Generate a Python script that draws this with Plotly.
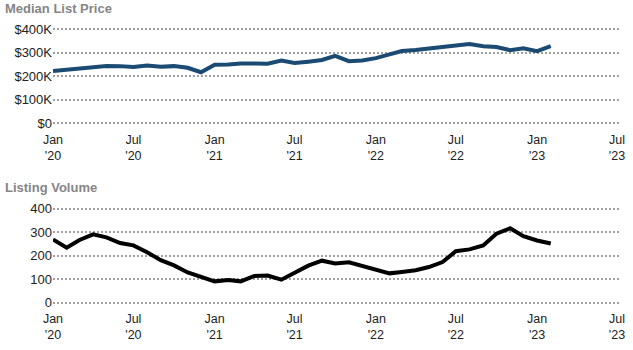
import plotly.graph_objects as go
import pandas as pd

months = pd.date_range("2020-01-01", "2023-02-01", freq="MS").strftime("%Y-%m-%d").tolist()

median_list_price = [221, 226, 230, 237, 243, 242, 238, 245, 239, 242, 235, 216,
                     248, 249, 253, 253, 252, 266, 255, 261, 268, 286, 263, 266,
                     276, 292, 306, 311, 318, 327, 330, 336, 327, 323, 310, 318,
                     306, 327]
median_list_price = [v * 1000 for v in median_list_price]

listing_volume = [268, 233, 266, 290, 277, 253, 243, 214, 180, 158, 128, 111,
                  90, 96, 90, 113, 115, 97, 126, 157, 178, 166, 171, 157,
                  141, 124, 130, 137, 151, 172, 218, 226, 243, 293, 316, 282,
                  264, 251]

x_tickvals = ["2020-01-01", "2020-07-01", "2021-01-01", "2021-07-01",
              "2022-01-01", "2022-07-01", "2023-01-01", "2023-07-01"]
x_ticktext = ["Jan<br>'20", "Jul<br>'20", "Jan<br>'21", "Jul<br>'21",
              "Jan<br>'22", "Jul<br>'22", "Jan<br>'23", "Jul<br>'23"]
price_ticks = [0, 100000, 200000, 300000, 400000]
price_ticktext = ["$0", "$100K", "$200K", "$300K", "$400K"]
volume_ticks = [0, 100, 200, 300, 400]

W, H = 633, 350
font = "Arial, Liberation Sans, sans-serif"

fig = go.Figure()
fig.add_trace(go.Scatter(x=months, y=median_list_price, mode="lines",
                         line=dict(color="#1b4a72", width=4), xaxis="x", yaxis="y",
                         hoverinfo="skip"))
fig.add_trace(go.Scatter(x=months, y=listing_volume, mode="lines",
                         line=dict(color="#000000", width=4), xaxis="x2", yaxis="y2",
                         hoverinfo="skip"))

# x: Jan 2020 at px 53, Jul 2023 at px 617, plot ends at px 620
days = (pd.Timestamp("2023-07-01") - pd.Timestamp("2020-01-01")).days
px_per_day = (617 - 53) / days
end_date = (pd.Timestamp("2023-07-01") + pd.Timedelta(days=3 / px_per_day)).strftime("%Y-%m-%d %H:%M")
xdom = [53 / W, 620 / W]
common_x = dict(domain=xdom, range=["2020-01-01", end_date], tickvals=x_tickvals,
                ticktext=x_ticktext, showgrid=False, zeroline=False, showline=False,
                ticks="", automargin=False, ticklabelstandoff=4,
                tickfont=dict(family=font, size=12.5, color="#222"))
common_y = dict(showgrid=True, gridcolor="#a0a0a0", griddash="2px,2px", gridwidth=2,
                zeroline=False, showline=False, ticks="", automargin=False,
                tickfont=dict(family=font, size=13, color="#222"))


def ydomain(top_px, bottom_px, pad=3):
    return [1 - (bottom_px + pad) / H, 1 - (top_px - pad) / H]


def yrange(top_px, bottom_px, vmax, pad=3):
    per = (bottom_px - top_px) / vmax
    return [-pad / per, vmax + pad / per]


fig.update_layout(
    width=W, height=H,
    margin=dict(l=0, r=0, t=0, b=0),
    paper_bgcolor="white", plot_bgcolor="white",
    showlegend=False,
    xaxis=dict(anchor="y", **common_x),
    yaxis=dict(domain=ydomain(29, 123), range=yrange(29, 123, 400000),
               tickvals=price_ticks, ticktext=price_ticktext, anchor="x", **common_y),
    xaxis2=dict(anchor="y2", **common_x),
    yaxis2=dict(domain=ydomain(208.5, 302.5), range=yrange(208.5, 302.5, 400),
                tickvals=volume_ticks, anchor="x2", **common_y),
    annotations=[
        dict(text="<b>Median List Price</b>", x=3 / W, y=1 - 9 / H, xref="paper", yref="paper",
             xanchor="left", yanchor="middle", showarrow=False,
             font=dict(family=font, size=13, color="#858585")),
        dict(text="<b>Listing Volume</b>", x=3 / W, y=1 - 187 / H, xref="paper", yref="paper",
             xanchor="left", yanchor="middle", showarrow=False,
             font=dict(family=font, size=13, color="#858585")),
    ],
)

fig.write_html("out.html")
